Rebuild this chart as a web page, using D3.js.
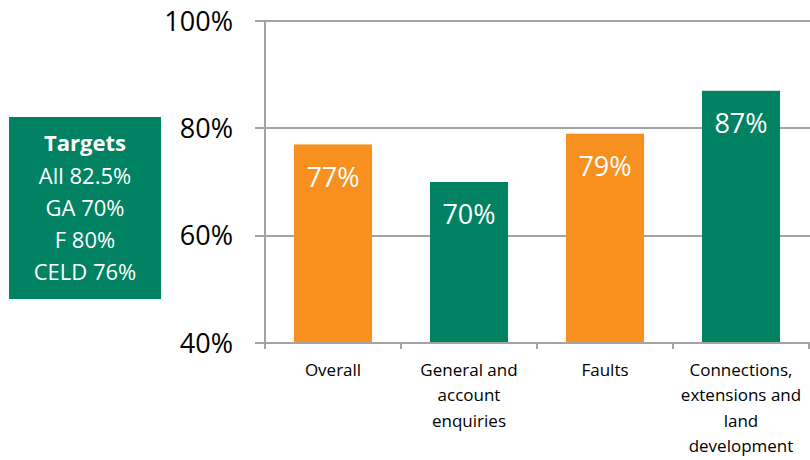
<!DOCTYPE html>
<html>
<head>
<meta charset="utf-8">
<script src="https://cdn.jsdelivr.net/npm/d3@7"></script>
<style>
  body { margin: 0; background: #fff; }
  svg { display: block; font-family: "Open Sans", sans-serif; }
</style>
</head>
<body>
<div id="chart"></div>
<script>
// chart data
const categories = ['Overall', 'General and account enquiries', 'Faults', 'Connections, extensions and land development'];
const categoryLines = [
  ['Overall'],
  ['General and', 'account', 'enquiries'],
  ['Faults'],
  ['Connections,', 'extensions and', 'land', 'development']
];
const values = [0.77, 0.70, 0.79, 0.87];
const barColors = ['#f7901e', '#008263', '#f7901e', '#008263'];
const yTicks = [0.4, 0.6, 0.8, 1.0];
const targetTitle = 'Targets';
const targetLines = ['All 82.5%', 'GA 70%', 'F 80%', 'CELD 76%'];

const W = 810, H = 460;
const m = { top: 21, right: 1, bottom: 117, left: 265 };

const svg = d3.select('#chart').append('svg').attr('width', W).attr('height', H);

const x = d3.scaleBand().domain(categories)
  .range([m.left, W - m.right])
  .paddingInner(0.426).paddingOuter(0.213);
const y = d3.scaleLinear().domain([0.4, 1]).range([H - m.bottom, m.top]);

const grey = '#a3a3a3';

// gridlines (40% is the axis itself)
svg.selectAll('.grid').data(yTicks.slice(1)).join('line')
  .attr('x1', m.left - 10).attr('x2', W)
  .attr('y1', d => Math.round(y(d))).attr('y2', d => Math.round(y(d)))
  .attr('stroke', grey).attr('stroke-width', 2);

// bars
svg.selectAll('.bar').data(values).join('rect')
  .attr('x', (d, i) => x(categories[i]))
  .attr('y', d => y(d))
  .attr('width', x.bandwidth())
  .attr('height', d => y(0.4) - y(d))
  .attr('fill', (d, i) => barColors[i]);

// value labels inside bars
svg.selectAll('.val').data(values).join('text')
  .attr('x', (d, i) => x(categories[i]) + x.bandwidth() / 2)
  .attr('y', d => y(d) + 33)
  .attr('dy', '0.35em')
  .attr('text-anchor', 'middle')
  .attr('fill', '#fff').attr('font-size', 27)
  .text(d => d3.format('.0%')(d));

// y axis line and ticks
const yBase = Math.round(y(0.4));
svg.append('line')
  .attr('x1', m.left).attr('x2', m.left)
  .attr('y1', Math.round(y(1))).attr('y2', yBase + 6)
  .attr('stroke', grey).attr('stroke-width', 2);
svg.append('line')
  .attr('x1', m.left - 10).attr('x2', W)
  .attr('y1', yBase).attr('y2', yBase)
  .attr('stroke', grey).attr('stroke-width', 2);

svg.selectAll('.ylbl').data(yTicks).join('text')
  .attr('x', m.left - 32)
  .attr('y', d => y(d))
  .attr('dy', '0.36em')
  .attr('text-anchor', 'end')
  .attr('font-size', 27).attr('fill', '#000')
  .text(d => d3.format('.0%')(d));

// x ticks at band boundaries
const step = x.step();
const bounds = d3.range(categories.length + 1).map(i => m.left + i * step);
svg.selectAll('.xtick').data(bounds).join('line')
  .attr('x1', d => Math.min(Math.round(d), W - 1)).attr('x2', d => Math.min(Math.round(d), W - 1))
  .attr('y1', yBase).attr('y2', yBase + 6)
  .attr('stroke', grey).attr('stroke-width', 2);

// category labels
categoryLines.forEach((lines, i) => {
  const cx = x(categories[i]) + x.bandwidth() / 2;
  const t = svg.append('text')
    .attr('text-anchor', 'middle')
    .attr('font-size', 17).attr('fill', '#000');
  lines.forEach((ln, j) => {
    t.append('tspan').attr('x', cx).attr('y', yBase + 33 + j * 25.3).text(ln);
  });
});

// targets box
const box = svg.append('g');
box.append('rect').attr('x', 9).attr('y', 117).attr('width', 152).attr('height', 182)
  .attr('fill', '#008263');
box.append('text').attr('x', 85).attr('y', 143).attr('dy', '0.35em')
  .attr('text-anchor', 'middle').attr('fill', '#fff')
  .attr('font-size', 22).attr('font-weight', 'bold').text(targetTitle);
box.selectAll('.tl').data(targetLines).join('text')
  .attr('x', 85).attr('y', (d, i) => 176 + i * 32).attr('dy', '0.35em')
  .attr('text-anchor', 'middle').attr('fill', '#fff')
  .attr('font-size', 22).text(d => d);
</script>
</body>
</html>
